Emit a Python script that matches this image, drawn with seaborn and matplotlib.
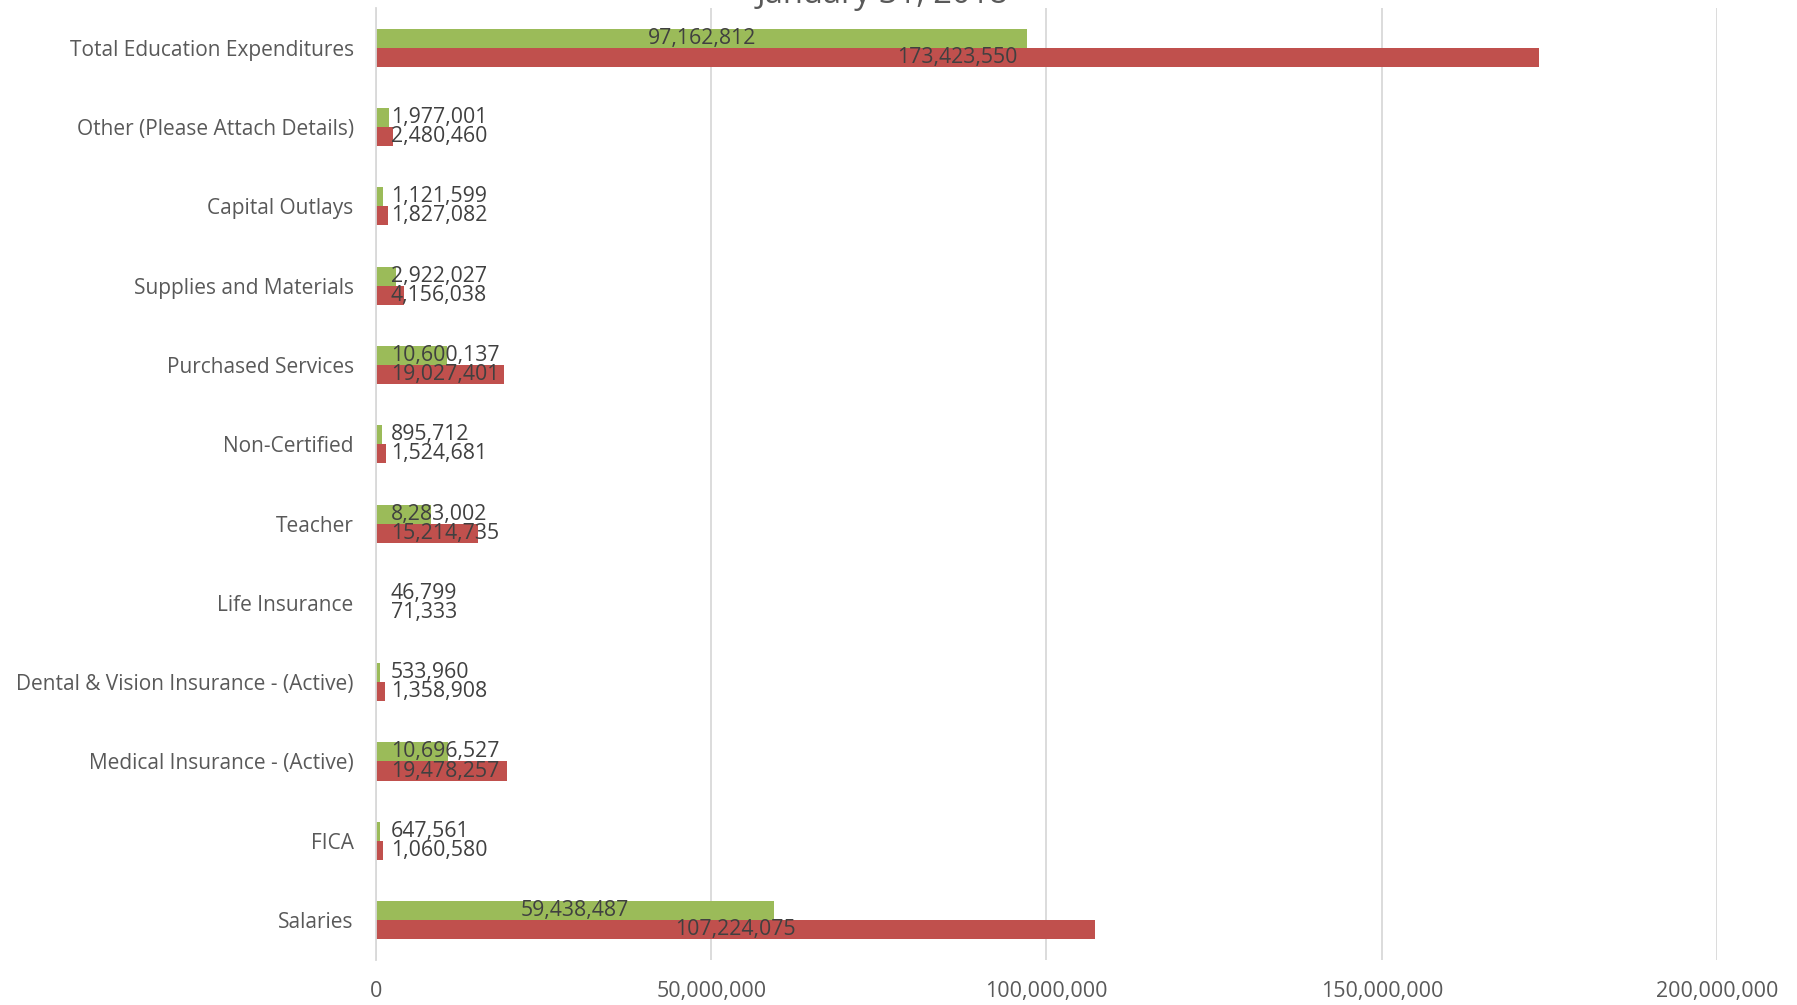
import matplotlib
matplotlib.use("Agg")
import matplotlib.pyplot as plt
import seaborn as sns
import pandas as pd
from matplotlib.ticker import FuncFormatter

categories = [
    "Total Education Expenditures",
    "Other (Please Attach Details)",
    "Capital Outlays",
    "Supplies and Materials",
    "Purchased Services",
    "Non-Certified",
    "Teacher",
    "Life Insurance",
    "Dental & Vision Insurance - (Active)",
    "Medical Insurance - (Active)",
    "FICA",
    "Salaries",
]
series_names = ["Year to Date", "Budget"]
green_values = [97162812, 1977001, 1121599, 2922027, 10600137, 895712,
                8283002, 46799, 533960, 10696527, 647561, 59438487]
red_values = [173423550, 2480460, 1827082, 4156038, 19027401, 1524681,
              15214735, 71333, 1358908, 19478257, 1060580, 107224075]
x_ticks = [0, 50000000, 100000000, 150000000, 200000000]
title_text = "January 31, 2018"

df = pd.DataFrame({
    "category": categories * 2,
    "series": [series_names[0]] * len(categories) + [series_names[1]] * len(categories),
    "value": green_values + red_values,
})

sns.set_theme(style="white")
plt.rcParams["font.family"] = ["Open Sans", "DejaVu Sans"]

fig = plt.figure(figsize=(17.97, 10.05), dpi=100)
ax = fig.add_axes([0.2092, 0.045, 0.7463, 0.947])

palette = {series_names[0]: "#9BBB59", series_names[1]: "#C0504D"}
sns.barplot(data=df, y="category", x="value", hue="series", order=categories,
            hue_order=series_names, palette=palette, orient="h", width=0.48,
            ax=ax, legend=False, saturation=1, linewidth=0)

ax.set_xlim(0, 200000000)
ax.set_xticks(x_ticks)
ax.xaxis.set_major_formatter(FuncFormatter(lambda v, p: f"{int(v):,}"))
ax.grid(axis="x", color="#D9D9D9", linewidth=1.3)
ax.grid(axis="y", visible=False)
ax.set_axisbelow(True)
for s in ["top", "right", "bottom"]:
    ax.spines[s].set_visible(False)
ax.spines["left"].set_color("#D9D9D9")
ax.spines["left"].set_linewidth(1.3)
ax.set_xlabel("")
ax.set_ylabel("")
ax.tick_params(axis="x", length=0, pad=15, labelsize=15.5, labelcolor="#595959")
ax.tick_params(axis="y", length=0, pad=16, labelsize=15, labelcolor="#595959")

min_left = 2200000
for cont in ax.containers:
    for patch in cont.patches:
        w = patch.get_width()
        yc = patch.get_y() + patch.get_height() / 2
        label = f"{int(round(w)):,}"
        if w > 30000000:
            ax.text(w / 2, yc, label, ha="center", va="center", fontsize=15.3,
                    color="#404040")
        else:
            ax.text(min_left, yc, label, ha="left", va="center", fontsize=15.3,
                    color="#404040")

fig.text(0.491, 0.9968, title_text, ha="center", va="baseline", fontsize=23.5,
         color="#595959")

fig.savefig("out.png", dpi=100)
